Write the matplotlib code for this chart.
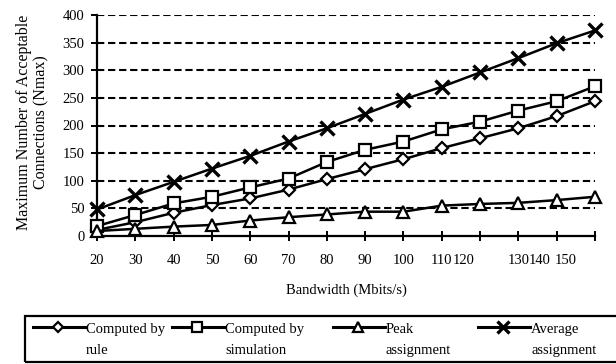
import matplotlib
matplotlib.use("Agg")
import matplotlib.pyplot as plt
from matplotlib.lines import Line2D
from matplotlib.patches import Rectangle

plt.rcParams['font.family'] = ['Liberation Serif', 'DejaVu Serif']

bandwidth = [20, 30, 40, 50, 60, 70, 80, 90, 100, 110, 120, 130, 140, 150]
rule = [11, 25, 42, 56, 68, 84, 103, 121, 139, 159, 177, 195, 217, 244]
simulation = [18, 38, 59, 71, 88, 104, 134, 156, 171, 193, 207, 227, 244, 271]
peak = [9, 13, 17, 20, 28, 34, 39, 44, 44, 55, 58, 60, 65, 71]
average = [48, 74, 98, 122, 145, 171, 195, 221, 247, 270, 296, 322, 349, 372]

labels = ['Computed by\nrule', 'Computed by\nsimulation', 'Peak\nassignment', 'Average\nassignment']
yticks = [0, 50, 100, 150, 200, 250, 300, 350, 400]
# the original's x tick labels are squeezed to the left near the end
label_shift = [0, 0, 0, 0, 0, 0, 0, 0, 0, 0, -0.44, 0, -0.44, -0.76]

W, H = 616, 364
fig = plt.figure(figsize=(W / 100, H / 100), dpi=100)
ax = fig.add_axes([97 / W, 1 - 236 / H, (595 - 97) / W, 221 / H])

x = list(range(len(bandwidth)))
styles = [
    dict(marker='D', ms=6.5, mew=1.6),
    dict(marker='s', ms=8, mew=1.6),
    dict(marker='^', ms=9, mew=1.6),
    dict(marker='x', ms=10, mew=2.4),
]
for ys, st in zip([rule, simulation, peak, average], styles):
    ax.plot(x, ys, color='black', lw=1.8, mfc='white', mec='black',
            clip_on=False, zorder=3, **st)

ax.set_xlim(0, len(bandwidth) - 1)
ax.set_ylim(0, 400)
ax.set_yticks(yticks)
for v in yticks[1:]:
    ax.axhline(v, color='black', lw=1.5, ls=(0, (3.5, 1.8)), zorder=1)

ax.xaxis.remove_overlapping_locs = False
ax.set_xticks(x)
ax.tick_params(axis='x', which='major', direction='inout', length=7, width=1.4,
               labelbottom=False)
ax.set_xticks([i + s for i, s in zip(x, label_shift)],
              labels=[str(b) for b in bandwidth], minor=True)
ax.tick_params(axis='x', which='minor', length=0, pad=13, labelsize=10.5)
ax.tick_params(axis='y', direction='out', length=4, width=1.4, pad=5, labelsize=10.5)

for s in ['top', 'right']:
    ax.spines[s].set_visible(False)
for s in ['left', 'bottom']:
    ax.spines[s].set_linewidth(1.6)

ax.set_xlabel('Bandwidth (Mbits/s)', fontsize=10.5, labelpad=12)
fig.text(33 / W, 1 - 122 / H, 'Maximum Number of Acceptable\nConnections (Nmax)',
         rotation=90, ha='center', va='center', fontsize=11.5, linespacing=1.1)

# legend box, cut off at the right edge like the original
fig.patches.append(Rectangle((25 / W, 1 - 362 / H), 1.0, 46 / H,
                             transform=fig.transFigure, fill=False,
                             lw=1.6, ec='black'))
handle_x = [33, 172, 333, 478]
for hx, lab, st in zip(handle_x, labels, styles):
    y0 = 1 - 327 / H
    fig.add_artist(Line2D([hx / W, (hx + 52) / W], [y0, y0], color='black',
                          lw=2.2, transform=fig.transFigure))
    ms = st['ms'] * 0.85
    fig.add_artist(Line2D([(hx + 25) / W], [y0], color='black', mfc='white',
                          mec='black', marker=st['marker'], ms=ms,
                          mew=st['mew'], transform=fig.transFigure))
    fig.text((hx + 53) / W, 1 - 340 / H, lab, ha='left', va='center',
             fontsize=10.5, linespacing=1.8)

fig.savefig('out.png', dpi=100)
